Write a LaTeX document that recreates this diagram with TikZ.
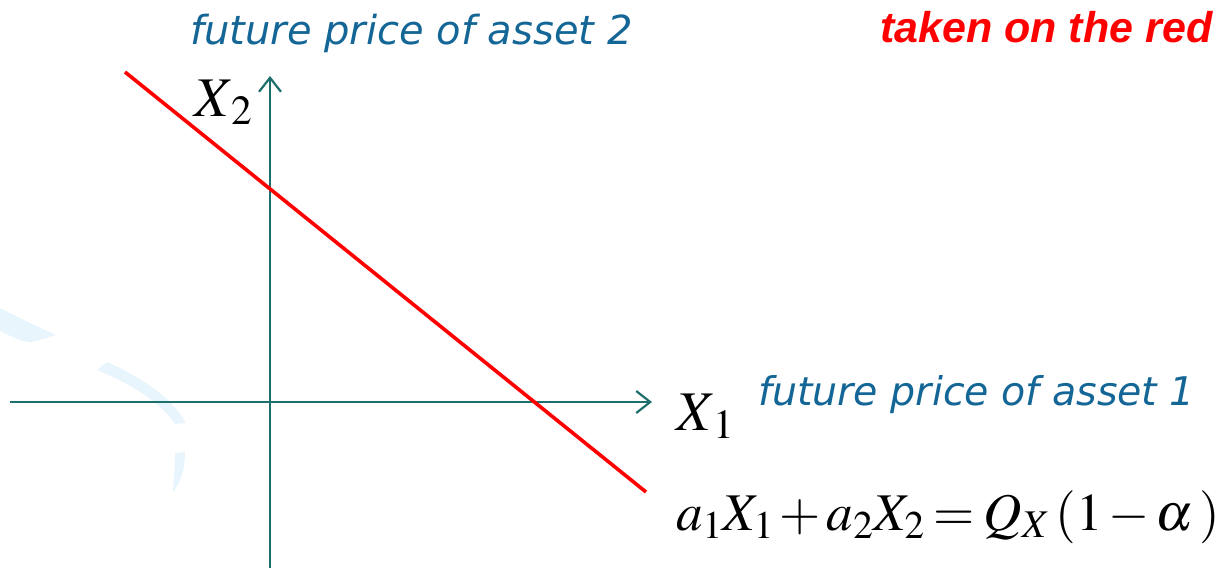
\documentclass[tikz,border=0pt]{standalone}
\usepackage{mathptmx}
\usepackage{fontspec}
\usepackage{tikz}
\usetikzlibrary{arrows.meta, positioning, calc}
\usepackage{xcolor}

\newfontfamily\labelfont{DejaVu Sans}
\newfontfamily\notefont{Liberation Sans}
\definecolor{axisteal}{RGB}{30,110,110}
\definecolor{labelblue}{RGB}{20,102,150}
\definecolor{swoosh}{RGB}{233,245,253}

\begin{document}
\begin{tikzpicture}[
    x=1pt, y=-1pt,
    axis/.style={line width=2.8pt, color=axisteal, -{Straight Barb[length=14pt, width=22pt, line width=2.2pt]}},
    budget/.style={line width=3.6pt, color=red},
    caption/.style={inner sep=0pt, anchor=base west, text=labelblue,
                    font=\labelfont\itshape\fontsize{40}{40}\selectfont},
    note/.style={inner sep=0pt, anchor=base west, text=red,
                 font=\notefont\bfseries\itshape\fontsize{43}{43}\selectfont},
    var/.style={inner sep=0pt, anchor=base west, font=\fontsize{56}{56}\selectfont}
]
\useasboundingbox (0,0) rectangle (1226,568);

% faint background swooshes
\fill[swoosh] (0,308) .. controls (20,318) and (40,328) .. (56,335)
              .. controls (40,340) and (30,343) .. (28,342)
              .. controls (18,340) and (8,335) .. (0,331) -- cycle;
\fill[swoosh] (107,362) .. controls (143,378) and (172,398) .. (186,423)
              -- (175,424) .. controls (160,402) and (133,385) .. (97,370) -- cycle;
\fill[swoosh] (175,453) -- (185,452) .. controls (185,470) and (181,482) .. (173,492)
              .. controls (174,478) and (175,465) .. (175,453) -- cycle;

% axes
\coordinate (xstart) at (10,402);
\coordinate (xend) at (652,402);
\coordinate (ystart) at (270,568);
\coordinate (yend) at (270,76);
\draw[axis] (xstart) -- (xend);
\draw[axis] (ystart) -- (yend);

% red line
\coordinate (lstart) at (125,72);
\coordinate (lend) at (646,492);
\draw[budget] (lstart) -- (lend);

% labels
\node[caption] (ycaption) at (190,44) {future price of asset 2};
\node[note] (rednote) at (880,42) {taken on the red};
\node[var] (ytick) at (194,116) {$X_{\,2}$};
\node[var] (xtick) at (676,430) {$X_{\,1}$};
\node[caption, font=\labelfont\itshape\fontsize{39.5}{39.5}\selectfont] (xcaption) at (758,405) {future price of asset 1};
\node[var, font=\fontsize{53}{53}\selectfont] (constraint) at (676,530)
    {\medmuskip=2mu\thickmuskip=3mu$a_1X_1+a_2X_2=Q_X\,(1-\alpha\mkern2mu)$};
\end{tikzpicture}
\end{document}
